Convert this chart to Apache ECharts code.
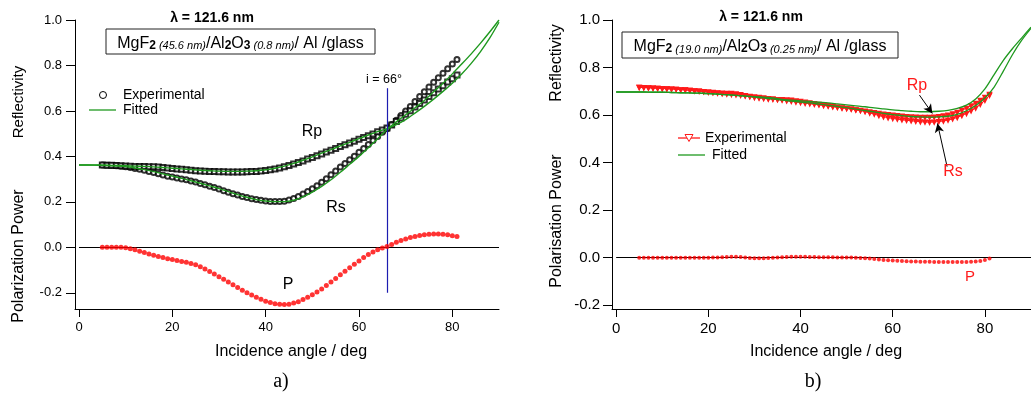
<!DOCTYPE html>
<html>
<head>
<meta charset="utf-8">
<script src="https://cdn.jsdelivr.net/npm/echarts@6/dist/echarts.min.js"></script>
<style>
  html, body { margin: 0; padding: 0; background: #fff; }
  #chart { width: 1031px; height: 394px; }
</style>
</head>
<body>
<div id="chart"></div>
<script>
// ---------- measurement angles (deg) ----------
const angles = [5,6,7,8,9,10,11,12,13,14,15,16,17,18,19,20,21,22,23,24,25,26,27,28,29,30,
  31,32,33,34,35,36,37,38,39,40,41,42,43,44,45,46,47,48,49,50,51,52,53,54,55,56,57,58,59,60,
  61,62,63,64,65,66,67,68,69,70,71,72,73,74,75,76,77,78,79,80,81];
const fitAngles = [0,2,4,6,8,10,12,14,16,18,20,22,24,26,28,30,32,34,36,38,40,42,44,46,48,50,
  52,54,56,58,60,62,64,66,68,70,72,74,76,78,80,82,84,86,88,90];

// ---------- a) MgF2 (45.6 nm)/Al2O3 (0.8 nm)/Al/glass ----------
const rsExpA = [0.362,0.361,0.360,0.359,0.357,0.354,0.351,0.347,0.343,0.339,0.334,0.329,0.324,0.318,0.313,0.309,
  0.305,0.301,0.297,0.292,0.287,0.281,0.275,0.269,0.263,0.256,0.249,0.242,0.236,0.230,0.224,0.219,0.214,0.210,
  0.207,0.204,0.202,0.201,0.201,0.203,0.208,0.215,0.224,0.235,0.246,0.258,0.271,0.286,0.302,0.319,0.336,0.353,
  0.369,0.385,0.401,0.418,0.435,0.452,0.470,0.488,0.506,0.522,0.540,0.559,0.580,0.600,0.620,0.642,0.663,0.684,
  0.705,0.726,0.746,0.766,0.786,0.806,0.826];
const rpExpA = [0.362,0.361,0.361,0.360,0.359,0.358,0.357,0.356,0.355,0.355,0.354,0.354,0.353,0.351,0.349,0.347,
  0.345,0.343,0.341,0.339,0.337,0.336,0.335,0.334,0.333,0.332,0.332,0.331,0.331,0.331,0.331,0.332,0.333,0.334,
  0.336,0.338,0.341,0.345,0.349,0.354,0.360,0.366,0.373,0.380,0.388,0.395,0.403,0.411,0.419,0.427,0.435,0.443,
  0.451,0.459,0.467,0.475,0.483,0.491,0.499,0.508,0.516,0.525,0.538,0.553,0.569,0.585,0.601,0.617,0.633,0.648,
  0.664,0.680,0.696,0.711,0.727,0.742,0.758];
const pA = [0,0,0,0,0,-0.002,-0.006,-0.011,-0.017,-0.023,-0.029,-0.035,-0.040,-0.045,-0.050,-0.054,
  -0.058,-0.062,-0.066,-0.071,-0.077,-0.085,-0.095,-0.106,-0.117,-0.129,-0.141,-0.153,-0.165,-0.177,-0.189,-0.200,
  -0.210,-0.220,-0.229,-0.237,-0.243,-0.248,-0.251,-0.252,-0.250,-0.245,-0.239,-0.230,-0.220,-0.209,-0.197,-0.183,
  -0.168,-0.153,-0.137,-0.121,-0.105,-0.090,-0.075,-0.060,-0.045,-0.032,-0.021,-0.011,-0.003,0.004,0.012,0.022,
  0.030,0.037,0.043,0.048,0.052,0.055,0.057,0.058,0.058,0.057,0.055,0.051,0.047];
const rpFitA = [0.362,0.362,0.362,0.361,0.360,0.359,0.357,0.356,0.354,0.351,0.348,0.345,0.342,0.339,0.337,0.335,
  0.334,0.334,0.335,0.337,0.341,0.348,0.357,0.369,0.383,0.398,0.414,0.430,0.446,0.462,0.478,0.494,0.509,0.522,
  0.540,0.562,0.590,0.620,0.652,0.686,0.722,0.762,0.808,0.860,0.920,0.990];
const rsFitA = [0.362,0.362,0.361,0.360,0.358,0.355,0.349,0.342,0.333,0.323,0.313,0.303,0.293,0.282,0.270,0.258,
  0.245,0.232,0.220,0.210,0.204,0.201,0.201,0.207,0.222,0.243,0.268,0.297,0.330,0.365,0.400,0.438,0.478,0.518,
  0.552,0.583,0.614,0.646,0.684,0.722,0.763,0.806,0.850,0.897,0.947,1.000];
const crossA = { angle: 66, top: 0.70, bottom: -0.2 };

// ---------- b) MgF2 (19.0 nm)/Al2O3 (0.25 nm)/Al/glass ----------
const rpExpB = [0.717,0.716,0.715,0.714,0.713,0.712,0.711,0.710,0.709,0.707,0.706,0.704,0.702,0.701,0.699,0.697,
  0.695,0.693,0.691,0.689,0.687,0.685,0.683,0.681,0.679,0.677,0.675,0.673,0.670,0.668,0.665,0.663,0.660,0.658,
  0.655,0.653,0.650,0.648,0.645,0.643,0.640,0.638,0.635,0.633,0.630,0.628,0.625,0.622,0.620,0.617,0.614,0.611,
  0.608,0.605,0.602,0.600,0.598,0.596,0.594,0.593,0.592,0.591,0.591,0.591,0.592,0.594,0.597,0.600,0.606,0.612,
  0.620,0.629,0.639,0.650,0.662,0.675,0.688];
const rsExpB = [0.717,0.716,0.715,0.714,0.713,0.712,0.711,0.710,0.709,0.707,0.706,0.704,0.702,0.701,0.699,0.697,
  0.696,0.694,0.693,0.692,0.692,0.690,0.687,0.682,0.678,0.674,0.672,0.670,0.668,0.668,0.666,0.666,0.664,0.663,
  0.660,0.658,0.655,0.652,0.649,0.646,0.643,0.640,0.638,0.634,0.631,0.629,0.626,0.622,0.619,0.615,0.609,0.604,
  0.598,0.593,0.589,0.586,0.583,0.580,0.578,0.576,0.574,0.572,0.571,0.570,0.571,0.573,0.575,0.579,0.584,0.590,
  0.598,0.607,0.618,0.630,0.645,0.662,0.683];
const pB = [0,0,0,0,0,0,0,0,0,0,0,0,0,0,0,0,0.001,0.001,0.002,0.003,0.004,0.004,0.003,0.001,-0.001,-0.002,
  -0.002,-0.002,-0.001,0,0.001,0.002,0.003,0.004,0.004,0.004,0.004,0.003,0.003,0.002,0.002,0.002,0.002,0.001,0.001,
  0.001,0.001,0,-0.001,-0.002,-0.004,-0.006,-0.008,-0.010,-0.011,-0.012,-0.013,-0.014,-0.015,-0.016,-0.016,-0.017,
  -0.017,-0.017,-0.018,-0.018,-0.018,-0.018,-0.018,-0.018,-0.018,-0.018,-0.017,-0.016,-0.014,-0.010,-0.003];
const rpFitB = [0.697,0.697,0.697,0.697,0.696,0.696,0.695,0.694,0.693,0.692,0.690,0.688,0.686,0.683,0.680,0.678,
  0.675,0.672,0.666,0.663,0.660,0.657,0.654,0.651,0.647,0.643,0.639,0.635,0.630,0.626,0.622,0.619,0.616,0.614,
  0.614,0.616,0.620,0.628,0.642,0.668,0.710,0.770,0.830,0.880,0.925,0.970];
const rsFitB = [0.697,0.697,0.697,0.697,0.696,0.696,0.695,0.694,0.693,0.692,0.690,0.688,0.686,0.683,0.680,0.676,
  0.672,0.668,0.663,0.659,0.655,0.651,0.646,0.641,0.636,0.631,0.625,0.619,0.613,0.607,0.602,0.598,0.594,0.592,
  0.591,0.592,0.595,0.603,0.618,0.640,0.672,0.718,0.785,0.855,0.915,0.965];
const rpArrowB = [[65.8, 0.684], [68.6, 0.607]];
const rsArrowB = [[71.8, 0.383], [69.7, 0.565]];

// ---------- tick labels ----------
const xTicks = [0, 20, 40, 60, 80];
const yTicks = [-0.2, 0, 0.2, 0.4, 0.6, 0.8, 1.0];

const FONT = '"Liberation Sans", Arial, Helvetica, sans-serif';
const GREEN = '#1f991f';
const RED = '#ff1a1a';

const pairs = (xs, ys) => xs.map((x, i) => [x, ys[i]]);

function xAxis(gridIndex, min, fs) {
  return {
    type: 'value', gridIndex, min, max: 90,
    axisLine: { show: true, onZero: false, lineStyle: { color: '#000', width: 1 } },
    axisTick: { show: true, inside: false, length: 8, customValues: xTicks, lineStyle: { color: '#000' } },
    axisLabel: { customValues: xTicks, margin: 12, color: '#000', fontSize: fs, fontFamily: FONT },
    splitLine: { show: false }
  };
}
function yAxis(gridIndex, min, fs, margin) {
  return {
    type: 'value', gridIndex, min, max: 1.0,
    axisLine: { show: true, onZero: false, lineStyle: { color: '#000', width: 1 } },
    axisTick: { show: true, inside: false, length: 9, customValues: yTicks, lineStyle: { color: '#000' } },
    axisLabel: { customValues: yTicks, margin, color: '#000', fontSize: fs, fontFamily: FONT,
      formatter: v => v.toFixed(1) },
    splitLine: { show: false }
  };
}

function label(x, y, text, size, opts = {}) {
  return {
    type: 'text', x, y, rotation: opts.rotation || 0, silent: true, z: 100,
    style: {
      text, fill: opts.color || '#000', align: opts.align || 'center', verticalAlign: 'middle',
      font: (opts.weight || 'normal') + ' ' + size + 'px ' + (opts.family || FONT)
    }
  };
}
function stackBox(x, y, w, h, text) {
  return [
    { type: 'rect', silent: true, z: 99, shape: { x, y, width: w, height: h },
      style: { fill: '#fff', stroke: '#222', lineWidth: 1 } },
    { type: 'text', silent: true, z: 100, x: x + w / 2, y: y + h / 2 + 1,
      style: {
        text, align: 'center', verticalAlign: 'middle',
        rich: {
          m: { fontSize: 16, fontFamily: FONT, fill: '#000', lineHeight: 18, verticalAlign: 'bottom' },
          b: { fontSize: 12, fontWeight: 'bold', fontFamily: FONT, fill: '#000', lineHeight: 15, verticalAlign: 'bottom' },
          i: { fontSize: 11, fontStyle: 'italic', fontFamily: FONT, fill: '#000', lineHeight: 15, verticalAlign: 'bottom' }
        }
      } }
  ];
}
function keyLine(x1, x2, y, color) {
  return { type: 'line', silent: true, z: 100, shape: { x1, y1: y, x2, y2: y },
    style: { stroke: color, lineWidth: 1.3 } };
}

const chart = echarts.init(document.getElementById('chart'), null, { renderer: 'canvas' });

const option = {
  animation: false,
  backgroundColor: '#fff',
  grid: [
    { left: 75, top: 20, width: 424, height: 289 },
    { left: 612, top: 20, width: 427, height: 289 }
  ],
  xAxis: [xAxis(0, -0.857, 13), xAxis(1, -0.9, 15)],
  yAxis: [yAxis(0, -0.2714, 13, 13), yAxis(1, -0.216, 15, 12)],
  series: [
    // ----- a) -----
    { name: 'Rs measured', type: 'scatter', xAxisIndex: 0, yAxisIndex: 0, z: 3,
      symbol: 'emptyCircle', symbolSize: 5, itemStyle: { color: '#000', borderWidth: 0.9 },
      data: pairs(angles, rsExpA) },
    { name: 'Rp measured', type: 'scatter', xAxisIndex: 0, yAxisIndex: 0, z: 3,
      symbol: 'emptyRect', symbolSize: 5, itemStyle: { color: '#000', borderWidth: 0.9 },
      data: pairs(angles, rpExpA) },
    { name: 'Rs fit', type: 'line', xAxisIndex: 0, yAxisIndex: 0, z: 4, smooth: 0.3,
      showSymbol: false, symbol: 'none', lineStyle: { color: GREEN, width: 1.4 },
      data: pairs(fitAngles, rsFitA) },
    { name: 'Rp fit', type: 'line', xAxisIndex: 0, yAxisIndex: 0, z: 4, smooth: 0.3,
      showSymbol: false, symbol: 'none', lineStyle: { color: GREEN, width: 1.4 },
      data: pairs(fitAngles, rpFitA) },
    { name: 'P', type: 'scatter', xAxisIndex: 0, yAxisIndex: 0, z: 5,
      symbol: 'circle', symbolSize: 5, itemStyle: { color: '#ff0000' },
      data: pairs(angles, pA),
      markLine: {
        silent: true, symbol: 'none', label: { show: false }, animation: false,
        data: [
          [{ coord: [0, 0], lineStyle: { color: '#000', width: 1, type: 'solid' } }, { coord: [90, 0] }],
          [{ coord: [crossA.angle, crossA.top], lineStyle: { color: '#1c1cb0', width: 1.2, type: 'solid' } },
           { coord: [crossA.angle, crossA.bottom] }]
        ]
      } },
    // ----- b) -----
    { name: 'Rp measured b', type: 'line', xAxisIndex: 1, yAxisIndex: 1, z: 3,
      symbol: 'emptyTriangle', symbolRotate: 180, symbolSize: 3, showSymbol: true,
      lineStyle: { color: RED, width: 1 }, itemStyle: { color: RED, borderWidth: 0.8 },
      data: pairs(angles, rpExpB) },
    { name: 'Rs measured b', type: 'line', xAxisIndex: 1, yAxisIndex: 1, z: 3,
      symbol: 'emptyTriangle', symbolRotate: 180, symbolSize: 3, showSymbol: true,
      lineStyle: { color: RED, width: 1 }, itemStyle: { color: RED, borderWidth: 0.8 },
      data: pairs(angles, rsExpB),
      markLine: {
        silent: true, symbol: ['none', 'arrow'], symbolSize: [7, 9], label: { show: false }, animation: false,
        lineStyle: { color: '#000', width: 1, type: 'solid' },
        data: [
          [{ coord: rpArrowB[0] }, { coord: rpArrowB[1] }],
          [{ coord: rsArrowB[0] }, { coord: rsArrowB[1] }]
        ]
      } },
    { name: 'Rp fit b', type: 'line', xAxisIndex: 1, yAxisIndex: 1, z: 4, smooth: 0.3,
      showSymbol: false, symbol: 'none', lineStyle: { color: GREEN, width: 1.3 },
      data: pairs(fitAngles, rpFitB) },
    { name: 'Rs fit b', type: 'line', xAxisIndex: 1, yAxisIndex: 1, z: 4, smooth: 0.3,
      showSymbol: false, symbol: 'none', lineStyle: { color: GREEN, width: 1.3 },
      data: pairs(fitAngles, rsFitB) },
    { name: 'P b', type: 'scatter', xAxisIndex: 1, yAxisIndex: 1, z: 5,
      symbol: 'circle', symbolSize: 4, itemStyle: { color: '#ff0000' },
      data: pairs(angles, pB),
      markLine: {
        silent: true, symbol: 'none', label: { show: false }, animation: false,
        lineStyle: { color: '#000', width: 1, type: 'solid' },
        data: [[{ coord: [0, 0] }, { coord: [90, 0] }]]
      } }
  ],
  graphic: [
    // a) annotations
    label(212, 18, 'λ = 121.6 nm', 14, { weight: 'bold' }),
    ...stackBox(106, 29, 269, 25,
      '{m|MgF}{b|2}{i| (45.6 nm)}{m|/Al}{b|2}{m|O}{b|3}{i| (0.8 nm)}{m|/ Al /glass}'),
    label(19, 102, 'Reflectivity', 15, { rotation: Math.PI / 2 }),
    label(19, 256, 'Polarization Power', 16, { rotation: Math.PI / 2 }),
    label(291, 352, 'Incidence angle / deg', 16),
    label(281, 382, 'a)', 20, { family: '"Liberation Serif", "Times New Roman", serif' }),
    label(312, 132, 'Rp', 16),
    label(336, 208, 'Rs', 16),
    label(288, 285, 'P', 16),
    label(384, 80, 'i = 66°', 12.5),
    // a) key
    { type: 'circle', silent: true, z: 100, shape: { cx: 103, cy: 95, r: 3.5 },
      style: { fill: '#fff', stroke: '#000', lineWidth: 1 } },
    label(123, 95, 'Experimental', 14, { align: 'left' }),
    keyLine(89, 116, 110, GREEN),
    label(123, 110, 'Fitted', 14, { align: 'left' }),
    // b) annotations
    label(761, 17, 'λ = 121.6 nm', 14, { weight: 'bold' }),
    ...stackBox(622, 32, 276, 26,
      '{m|MgF}{b|2}{i| (19.0 nm)}{m|/Al}{b|2}{m|O}{b|3}{i| (0.25 nm)}{m|/ Al /glass}'),
    label(557, 63, 'Reflectivity', 16, { rotation: Math.PI / 2 }),
    label(557, 221, 'Polarisation Power', 16, { rotation: Math.PI / 2 }),
    label(826, 352, 'Incidence angle / deg', 16),
    label(813, 382, 'b)', 20, { family: '"Liberation Serif", "Times New Roman", serif' }),
    label(917, 86, 'Rp', 16, { color: RED }),
    label(953, 172, 'Rs', 16, { color: RED }),
    label(970, 277, 'P', 15, { color: RED }),
    // b) key
    keyLine(678, 700, 138, RED),
    { type: 'polygon', silent: true, z: 101, shape: { points: [[685, 134.5], [693, 134.5], [689, 141.5]] },
      style: { fill: '#fff', stroke: RED, lineWidth: 1 } },
    label(705, 138, 'Experimental', 14, { align: 'left' }),
    keyLine(678, 705, 155, GREEN),
    label(712, 155, 'Fitted', 14, { align: 'left' })
  ]
};

chart.setOption(option);
</script>
</body>
</html>
